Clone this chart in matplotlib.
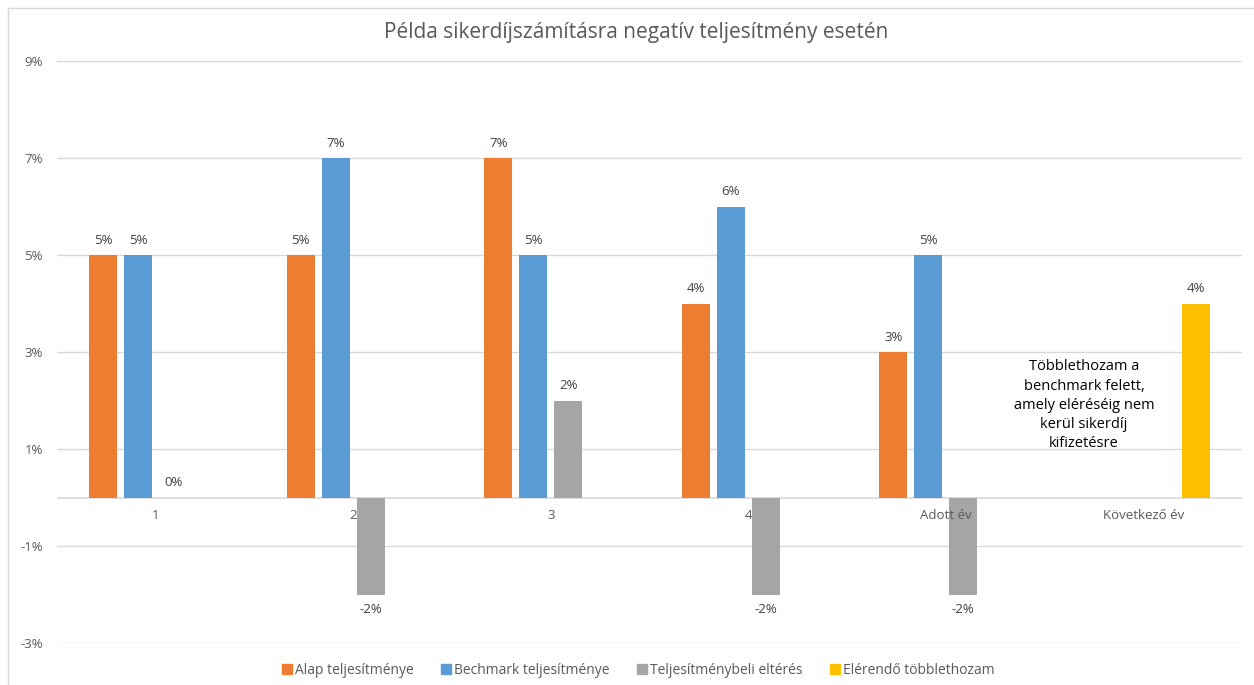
import numpy as np
import matplotlib.pyplot as plt
from matplotlib.lines import Line2D

plt.rcParams['font.family'] = ['Open Sans', 'DejaVu Sans']

# adatok (%)
kategoriak = ["1", "2", "3", "4", "Adott év", "Következő év"]
alap = [5, 5, 7, 4, 3, np.nan]
bench = [5, 7, 5, 6, 5, np.nan]
elteres = [0, -2, 2, -2, -2, np.nan]
elerendo = [np.nan, np.nan, np.nan, np.nan, np.nan, 4]

sorozatok = ["Alap teljesítménye", "Bechmark teljesítménye",
             "Teljesítménybeli eltérés", "Elérendő többlethozam"]
szinek = ["#ED7D31", "#5B9BD5", "#A5A5A5", "#FFC000"]

fig = plt.figure(figsize=(12.54, 6.85), dpi=100)
ax = fig.add_axes([0.04545, 0.06131, 0.94498, 0.84964])

x = np.arange(len(kategoriak))
w = 0.1418
lepes = 0.1772
for i, (vals, nev, c) in enumerate(zip([alap, bench, elteres, elerendo], sorozatok, szinek)):
    pos = x + (i - 1.5) * lepes
    ax.bar(pos, vals, width=w, color=c, label=nev, zorder=3)
    for p, v in zip(pos, vals):
        if np.isnan(v):
            continue
        off = 10.5 if v >= 0 else -10.5
        ax.annotate("%d%%" % v, (p, v), xytext=(0, off), textcoords="offset points",
                    ha="center", va="center", fontsize=9.5, color="#404040")

ax.set_xlim(-0.5, len(kategoriak) - 0.5)
ax.set_ylim(-3, 9)
ax.set_yticks([-3, -1, 1, 3, 5, 7, 9])
ax.set_yticklabels(["%d%%" % t for t in [-3, -1, 1, 3, 5, 7, 9]])
ax.yaxis.grid(True, color="#d9d9d9", lw=1, zorder=0)
ax.set_axisbelow(True)
ax.axhline(0, color="#d9d9d9", lw=1.2, zorder=2)

ax.set_xticks(x)
ax.set_xticklabels(kategoriak)
ax.spines['bottom'].set_position(('data', 0))
for s in ax.spines.values():
    s.set_visible(False)
ax.tick_params(axis='both', length=0, labelsize=9.5, labelcolor="#595959")
ax.tick_params(axis='x', pad=8)
ax.tick_params(axis='y', pad=10)
ax.xaxis.set_zorder(4)

ax.text(4.7, 1.9, "Többlethozam a\nbenchmark felett,\namely eléréséig nem\nkerül sikerdíj\nkifizetésre",
        ha="center", va="center", fontsize=10.5, color="black", linespacing=1.38, zorder=4)

fig.text(0.507, 0.953, "Példa sikerdíjszámításra negatív teljesítmény esetén",
         ha="center", va="center", fontsize=15, color="#595959")

handles = [Line2D([0], [0], marker='s', color='none', markerfacecolor=c, markeredgecolor=c,
                  markersize=7) for c in szinek]
fig.legend(handles, sorozatok, loc="center", bbox_to_anchor=(0.509, 0.021), ncol=4,
           frameon=False, fontsize=10, handlelength=0.7, handletextpad=0.2,
           columnspacing=2.0, labelcolor="#595959")

# keret
fig.add_artist(Line2D([8 / 1254, 8 / 1254], [0, 1 - 8 / 685], color="#d9d9d9", lw=1))
fig.add_artist(Line2D([8 / 1254, 1], [1 - 8 / 685, 1 - 8 / 685], color="#d9d9d9", lw=1))

fig.savefig("out.png", dpi=100)
